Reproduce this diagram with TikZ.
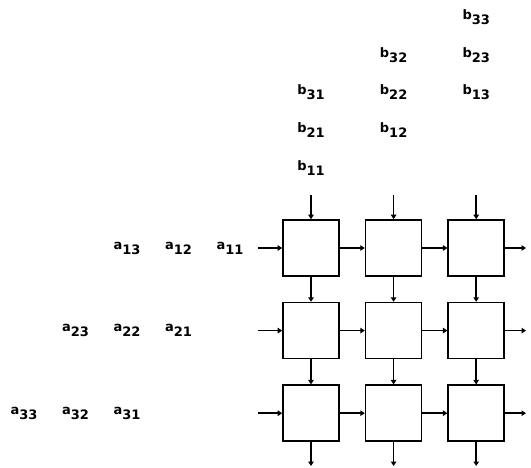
\documentclass[tikz,border=0pt]{standalone}
\usepackage{fontspec}
\setsansfont{DejaVu Sans}
\usetikzlibrary{arrows.meta,positioning,calc}
\newcommand{\elem}[2]{#1\raisebox{-5pt}{#2}}

\begin{document}
\begin{tikzpicture}[x=1pt, y=1pt,
  cell/.style={draw, line width=1.6pt, minimum size=56pt, inner sep=0pt},
  arr/.style={-{Triangle[length=4.5pt,width=5.5pt]}, line width=1.6pt},
  lbl/.style={font=\sffamily\bfseries\fontsize{13}{13}\selectfont, inner sep=0pt},
  node distance=25pt
]
  \useasboundingbox (0,0) rectangle (531,467);

  % processing cells
  \node[cell] (c11) at (311,219) {};
  \node[cell, right=of c11] (c12) {};
  \node[cell, right=of c12] (c13) {};
  \node[cell, below=of c11] (c21) {};
  \node[cell, right=of c21] (c22) {};
  \node[cell, right=of c22] (c23) {};
  \node[cell, below=of c21] (c31) {};
  \node[cell, right=of c31] (c32) {};
  \node[cell, right=of c32] (c33) {};

  % free ends of the boundary arrows
  \foreach \j in {1,2,3} {
    \coordinate[above=24pt of c1\j] (top\j);
    \coordinate[below=24pt of c3\j] (bot\j);
    \coordinate[left=24pt of c\j1] (west\j);
    \coordinate[right=21pt of c\j3] (east\j);
    \draw[arr] (top\j) -- (c1\j);
    \draw[arr] (c3\j) -- (bot\j);
    \draw[arr] (west\j) -- (c\j1);
    \draw[arr] (c\j3) -- (east\j);
  }

  % links between cells
  \foreach \i in {1,2,3} {
    \draw[arr] (c\i1) -- (c\i2);
    \draw[arr] (c\i2) -- (c\i3);
    \draw[arr] (c1\i) -- (c2\i);
    \draw[arr] (c2\i) -- (c3\i);
  }

  % skewed input streams
  \foreach \i in {1,2,3} {
    \foreach \k in {1,2,3} {
      \node[lbl] (a\i\k) at ($(c\i1.center)+({-81-51.5*(\i+\k-2)},0)$) {\elem{a}{\i\k}};
      \node[lbl] (b\k\i) at ($(c1\i.center)+(0,{80+37.75*(\i+\k-2)})$) {\elem{b}{\k\i}};
    }
  }
\end{tikzpicture}
\end{document}
